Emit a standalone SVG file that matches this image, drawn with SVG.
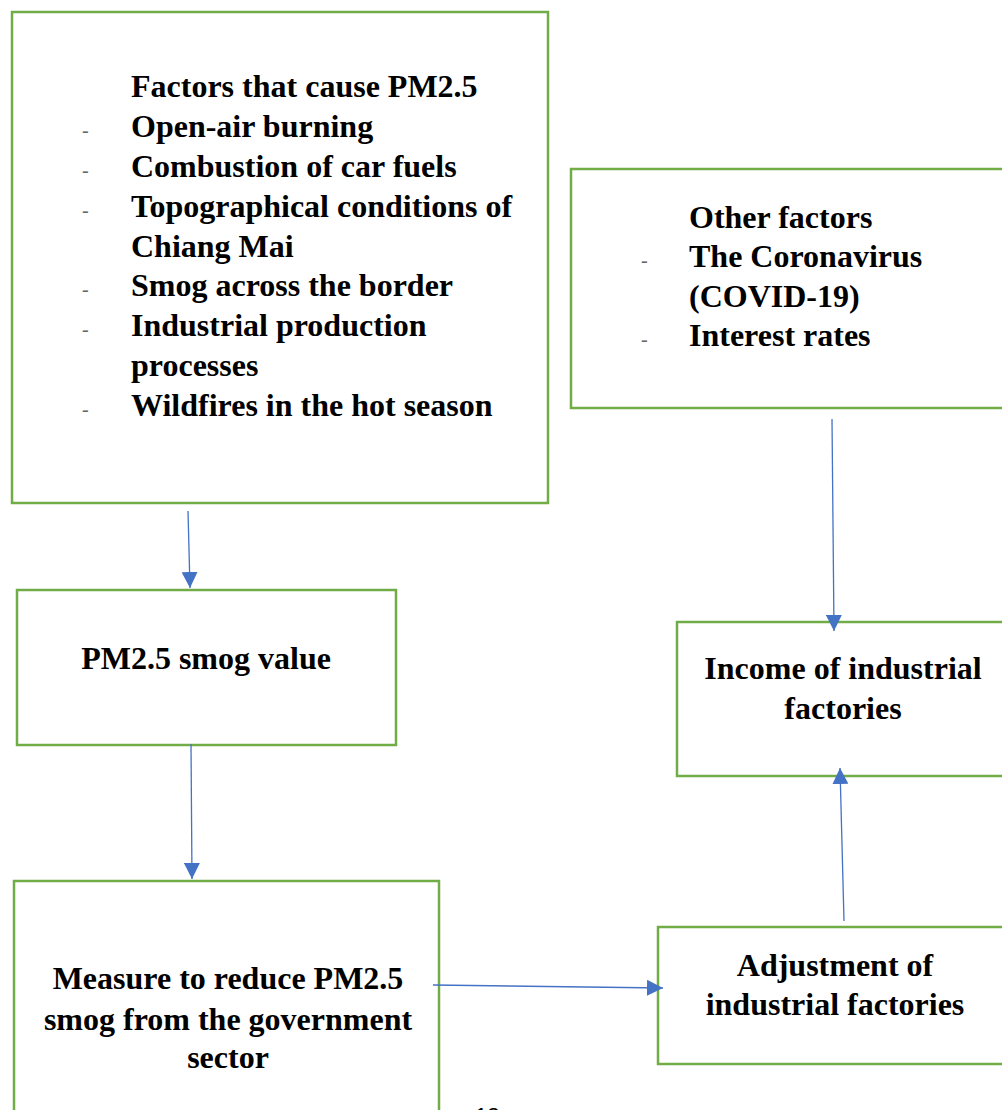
<svg xmlns="http://www.w3.org/2000/svg" width="1002" height="1110" viewBox="0 0 1002 1110">
<style>
.box{fill:#fff;stroke:#70AD47;stroke-width:2.5}
.t{font-family:"Liberation Serif","Times New Roman",serif;font-weight:bold;font-size:32px;fill:#000}
.c{text-anchor:middle}
.d{font-family:"Liberation Serif","Times New Roman",serif;font-size:20px;fill:#666}
.con{stroke:#4472C4;stroke-width:1.3;fill:none;marker-end:url(#ah)}
</style>
<defs>
<marker id="ah" markerUnits="userSpaceOnUse" markerWidth="16" markerHeight="16" viewBox="0 0 16 16" refX="16" refY="8" orient="auto">
<path d="M0,0 L16,8 L0,16 Z" fill="#4472C4"/>
</marker>
</defs>
<rect width="1002" height="1110" fill="#fff"/>
<g id="factors">
<rect class="box" x="12" y="12" width="536" height="491"/>
<text class="t" x="131" y="97">Factors that cause PM2.5</text>
<text class="d" x="82" y="137">-</text><text class="t" x="131" y="137">Open-air burning</text>
<text class="d" x="82" y="177">-</text><text class="t" x="131" y="177">Combustion of car fuels</text>
<text class="d" x="82" y="217">-</text><text class="t" x="131" y="217">Topographical conditions of</text>
<text class="t" x="131" y="257">Chiang Mai</text>
<text class="d" x="82" y="296">-</text><text class="t" x="131" y="296">Smog across the border</text>
<text class="d" x="82" y="336">-</text><text class="t" x="131" y="336">Industrial production</text>
<text class="t" x="131" y="376">processes</text>
<text class="d" x="82" y="416">-</text><text class="t" x="131" y="416">Wildfires in the hot season</text>
</g>
<g id="other">
<rect class="box" x="571" y="169" width="440" height="239"/>
<text class="t" x="689" y="228">Other factors</text>
<text class="d" x="641" y="267">-</text><text class="t" x="689" y="267">The Coronavirus</text>
<text class="t" x="689" y="307">(COVID-19)</text>
<text class="d" x="641" y="346">-</text><text class="t" x="689" y="346">Interest rates</text>
</g>
<g id="pm25">
<rect class="box" x="17" y="590" width="379" height="155"/>
<text class="t c" x="206" y="669">PM2.5 smog value</text>
</g>
<g id="income">
<rect class="box" x="677" y="622" width="340" height="154"/>
<text class="t c" x="843" y="679">Income of industrial</text>
<text class="t c" x="843" y="719">factories</text>
</g>
<g id="measure">
<rect class="box" x="14" y="881" width="425" height="240"/>
<text class="t c" x="228" y="989">Measure to reduce PM2.5</text>
<text class="t c" x="228" y="1030">smog from the government</text>
<text class="t c" x="228" y="1068">sector</text>
</g>
<g id="adjustment">
<rect class="box" x="658" y="927" width="360" height="137"/>
<text class="t c" x="835" y="976">Adjustment of</text>
<text class="t c" x="835" y="1015">industrial factories</text>
</g>
<g id="connectors">
<line class="con" x1="188" y1="511" x2="190" y2="588"/>
<line class="con" x1="832" y1="419" x2="834" y2="631"/>
<line class="con" x1="191" y1="744" x2="192" y2="879"/>
<line class="con" x1="433" y1="985" x2="663" y2="988"/>
<line class="con" x1="844" y1="921" x2="840" y2="768"/>
</g>
<text x="475" y="1123" font-family="Liberation Sans, Arial, sans-serif" font-size="22" fill="#000">12</text>
</svg>
